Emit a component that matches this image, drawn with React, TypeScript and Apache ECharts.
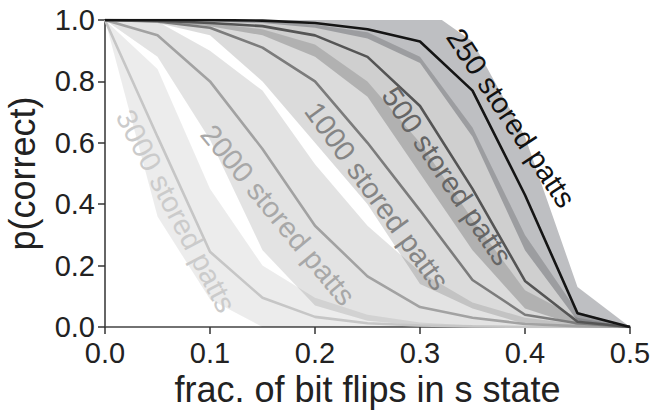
import React, { useEffect, useRef } from "react";
import * as echarts from "echarts";

const xs = [0, 0.05, 0.1, 0.15, 0.2, 0.25, 0.3, 0.35, 0.4, 0.45, 0.5];

const mean250 = [1, 1, 1, 0.998, 0.99, 0.97, 0.93, 0.77, 0.43, 0.045, 0];
const lo250 = [1, 1, 0.995, 0.99, 0.975, 0.94, 0.86, 0.62, 0.25, 0.02, 0];
const hi250 = [1, 1, 1, 1, 1, 1, 1.05, 0.93, 0.62, 0.13, 0];

const mean500 = [1, 0.998, 0.99, 0.98, 0.95, 0.88, 0.72, 0.45, 0.15, 0.017, 0];
const lo500 = [1, 0.995, 0.98, 0.95, 0.88, 0.75, 0.5, 0.25, 0.06, 0.005, 0];
const hi500 = [1, 1, 1, 0.995, 0.985, 0.96, 0.88, 0.65, 0.3, 0.05, 0];

const mean1000 = [1, 0.995, 0.975, 0.91, 0.8, 0.6, 0.38, 0.153, 0.04, 0.012, 0];
const lo1000 = [1, 0.99, 0.95, 0.8, 0.6, 0.4, 0.14, 0.06, 0.01, 0, 0];
const hi1000 = [1, 1, 0.99, 0.97, 0.92, 0.8, 0.6, 0.35, 0.12, 0.03, 0];

const mean2000 = [1, 0.95, 0.8, 0.58, 0.33, 0.165, 0.065, 0.03, 0.01, 0.003, 0];
const lo2000 = [1, 0.88, 0.61, 0.25, 0.07, 0.02, 0.005, 0, 0, 0, 0];
const hi2000 = [1, 0.995, 0.9, 0.77, 0.53, 0.33, 0.18, 0.08, 0.03, 0.01, 0];

const mean3000 = [1, 0.62, 0.245, 0.095, 0.033, 0.012, 0.005, 0.002, 0, 0, 0];
const lo3000 = [1, 0.36, 0.09, 0, 0, 0, 0, 0, 0, 0, 0];
const hi3000 = [1, 0.84, 0.45, 0.2, 0.095, 0.04, 0.015, 0.005, 0, 0, 0];

const curveNames = ["3000", "2000", "1000", "500", "250"];
const labelTexts = [
  "3000 stored patts",
  "2000 stored patts",
  "1000 stored patts",
  "500 stored patts",
  "250 stored patts",
];
const xTicks = ["0.0", "0.1", "0.2", "0.3", "0.4", "0.5"];
const yTicks = ["0.0", "0.2", "0.4", "0.6", "0.8", "1.0"];

const FONT = "'Liberation Sans', Arial, Helvetica, sans-serif";

export default function App() {
  const ref = useRef<HTMLDivElement>(null);
  useEffect(() => {
    if (!ref.current) return;
    const chart = echarts.init(ref.current, undefined, { renderer: "svg" });

    const means = [mean3000, mean2000, mean1000, mean500, mean250];
    const los = [lo3000, lo2000, lo1000, lo500, lo250];
    const his = [hi3000, hi2000, hi1000, hi500, hi250];
    const bandColors = [
      "rgba(0,0,0,0.075)",
      "rgba(0,0,0,0.11)",
      "rgba(0,0,0,0.14)",
      "rgba(0,0,0,0.19)",
      "rgba(40,42,52,0.3)",
    ];
    const lineColors = ["#c6c6c6", "#a2a2a2", "#7c7c7c", "#555555", "#151515"];
    const textColors = ["#cbcbcb", "#a8a8a8", "#858585", "#666666", "#111111"];

    const series: any[] = [];
    curveNames.forEach((name, i) => {
      const lo = los[i];
      const hi = his[i];
      series.push({
        name: name + " band",
        type: "custom",
        data: [[0]],
        clip: true,
        silent: true,
        z: 1,
        renderItem: (params: any, api: any) => {
          const pts: number[][] = [];
          xs.forEach((x, k) => pts.push(api.coord([x, hi[k]])));
          for (let k = xs.length - 1; k >= 0; k--) pts.push(api.coord([xs[k], lo[k]]));
          return {
            type: "polygon",
            shape: { points: pts },
            style: { fill: bandColors[i], stroke: "none" },
          };
        },
      });
    });
    curveNames.forEach((name, i) => {
      series.push({
        name: name,
        type: "line",
        data: xs.map((x, k) => [x, means[i][k]]),
        showSymbol: false,
        lineStyle: { color: lineColors[i], width: 2.6 },
        z: 3,
      });
    });

    const labelPos = [
      { x: 176, y: 211, a: 62.3 },
      { x: 278, y: 215, a: 50.4 },
      { x: 377, y: 196, a: 54.1 },
      { x: 447, y: 176, a: 55.9 },
      { x: 511, y: 118, a: 56.4 },
    ];

    chart.setOption({
      animation: false,
      grid: {
        left: 105,
        right: 23,
        top: 20,
        bottom: 84,
        containLabel: false,
        outerBoundsMode: "none",
      },
      xAxis: {
        type: "value",
        min: 0,
        max: 0.5,
        interval: 0.1,
        name: "frac. of bit flips in s state",
        nameLocation: "middle",
        nameGap: 42,
        nameTextStyle: { fontSize: 36, color: "#222", fontFamily: FONT },
        axisLine: { show: true, lineStyle: { color: "#444", width: 1.5 } },
        axisTick: { show: true, inside: false, length: 7, lineStyle: { color: "#333", width: 1.5 } },
        axisLabel: {
          fontSize: 29,
          color: "#222",
          fontFamily: FONT,
          margin: 11,
          formatter: (v: number) => xTicks[Math.round(v * 10)] ?? "",
        },
        splitLine: { show: false },
      },
      yAxis: {
        type: "value",
        min: 0,
        max: 1,
        interval: 0.2,
        name: "p(correct)",
        nameLocation: "middle",
        nameGap: 65,
        nameTextStyle: { fontSize: 36, color: "#222", fontFamily: FONT },
        axisLine: { show: true, lineStyle: { color: "#333", width: 1.5 } },
        axisTick: { show: true, inside: false, length: 7, lineStyle: { color: "#333", width: 1.5 } },
        axisLabel: {
          fontSize: 29,
          color: "#222",
          fontFamily: FONT,
          margin: 10,
          formatter: (v: number) => yTicks[Math.round(v * 5)] ?? "",
        },
        splitLine: { show: false },
      },
      series,
      graphic: labelPos.map((p, i) => ({
        type: "text",
        x: p.x,
        y: p.y,
        rotation: (-p.a * Math.PI) / 180,
        z: 10,
        silent: true,
        style: {
          text: labelTexts[i],
          fill: textColors[i],
          fontSize: 29,
          fontFamily: FONT,
          align: "center",
          verticalAlign: "middle",
        },
      })),
    });
    return () => chart.dispose();
  }, []);
  return (
    <div
      ref={ref}
      style={{ position: "fixed", left: 0, top: 0, width: 653, height: 411, background: "#fff" }}
    />
  );
}
